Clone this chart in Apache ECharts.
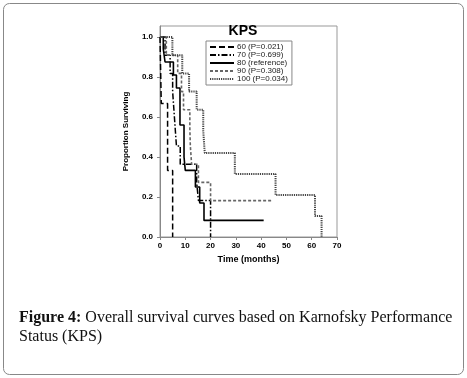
<!DOCTYPE html>
<html>
<head>
<meta charset="utf-8">
<script src="https://cdn.jsdelivr.net/npm/echarts@6/dist/echarts.min.js"></script>
<style>
  html, body { margin: 0; padding: 0; background: #fff; }
  #chart { width: 467px; height: 378px; }
</style>
</head>
<body>
<div id="chart"></div>
<script>
// Kaplan-Meier steps: [months, proportion surviving]
const kps60 = [[0, 1], [0.5, 0.667], [3, 0.333], [5, 0], [5, 0]]
const kps70 = [[0, 1], [2, 0.909], [4, 0.818], [5, 0.727], [5.5, 0.636], [6, 0.545], [6.5, 0.455], [8, 0.364], [14.5, 0.273], [15.2, 0.182], [20, 0], [20, 0]]
const kps80 = [[0, 1], [1.3, 0.94], [2, 0.875], [5.3, 0.81], [6.5, 0.745], [7.9, 0.56], [9.5, 0.4], [10, 0.333], [14, 0.25], [15.7, 0.17], [17.4, 0.083], [41, 0.083]]
const kps90 = [[0, 1], [2.5, 0.909], [7, 0.818], [8.5, 0.727], [9.3, 0.636], [11.8, 0.545], [12, 0.455], [12.5, 0.364], [15.2, 0.273], [20, 0.182], [44, 0.182]]
const kps100 = [[0, 1], [4.9, 0.909], [8.8, 0.818], [11.5, 0.727], [14.5, 0.636], [17.1, 0.53], [17.7, 0.42], [29.6, 0.315], [45.7, 0.21], [61.3, 0.105], [63.9, 0], [63.9, 0]]

const seriesNames = ['60 (P=0.021)', '70 (P=0.699)', '80 (reference)', '90 (P=0.308)', '100 (P=0.034)']
const yTicks = [0, 0.2, 0.4, 0.6, 0.8, 1.0]

const chart = echarts.init(document.getElementById('chart'))

const stepLine = (name, data, color, type, width) => ({
  name,
  type: 'line',
  step: 'end',
  data,
  symbol: 'none',
  lineStyle: { color, type, width },
  itemStyle: { color },
  emphasis: { disabled: true }
})

chart.setOption({
  backgroundColor: '#fff',
  animation: false,
  title: {
    text: 'KPS',
    left: 243,
    top: 24,
    padding: 0,
    textAlign: 'center',
    textStyle: { fontFamily: 'Liberation Sans', fontSize: 14, fontWeight: 'bold', color: '#000' }
  },
  legend: {
    data: seriesNames,
    orient: 'vertical',
    left: 206,
    top: 41,
    padding: [2, 4, 2, 3],
    itemGap: 0,
    itemWidth: 24,
    itemHeight: 8.5,
    borderColor: '#888',
    borderWidth: 1,
    backgroundColor: '#fff',
    // hide the marker drawn on the legend line, keep only the dashed stroke
    itemStyle: { color: 'rgba(0,0,0,0)', borderWidth: 0 },
    textStyle: { fontFamily: 'Liberation Sans', fontSize: 8, color: '#222', padding: [0, 0, 0, -2] }
  },
  grid: {
    left: 160,
    right: 130,
    top: 26,
    bottom: 141,
    show: true,
    borderColor: '#999',
    borderWidth: 1
  },
  xAxis: {
    type: 'value',
    min: 0,
    max: 70,
    interval: 10,
    name: 'Time (months)',
    nameLocation: 'middle',
    nameGap: 18,
    nameTextStyle: { fontFamily: 'Liberation Sans', fontSize: 9, fontWeight: 'bold', color: '#000' },
    axisLine: { lineStyle: { color: '#888' } },
    axisTick: { show: true, length: 3, lineStyle: { color: '#888' } },
    axisLabel: { fontFamily: 'Liberation Sans', fontSize: 8, fontWeight: 'bold', color: '#000', margin: 5 },
    splitLine: { show: false }
  },
  yAxis: {
    type: 'value',
    min: 0,
    max: 1.055,
    name: 'Proportion Surviving',
    nameLocation: 'middle',
    nameGap: 30,
    nameRotate: 90,
    nameTextStyle: { fontFamily: 'Liberation Sans', fontSize: 8, fontWeight: 'bold', color: '#000' },
    axisLine: { show: true, lineStyle: { color: '#888' } },
    axisTick: { show: true, length: 3, customValues: yTicks, lineStyle: { color: '#888' } },
    axisLabel: {
      customValues: yTicks,
      formatter: v => v.toFixed(1),
      fontFamily: 'Liberation Sans', fontSize: 8, fontWeight: 'bold', color: '#000', margin: 7
    },
    splitLine: { show: false }
  },
  graphic: [
    {
      type: 'rect',
      shape: { x: 3.5, y: 3.5, width: 460, height: 371, r: 6 },
      style: { fill: 'none', stroke: '#888', lineWidth: 1 },
      silent: true,
      z: -10
    },
    {
      type: 'text',
      left: 19,
      top: 308,
      style: {
        text: '{b|Figure 4:} Overall survival curves based on Karnofsky Performance\nStatus (KPS)',
        font: '16px "Liberation Serif"',
        fill: '#111',
        lineHeight: 19,
        rich: {
          b: { font: 'bold 16px "Liberation Serif"', fill: '#111' }
        }
      }
    }
  ],
  series: [
    stepLine(seriesNames[0], kps60, '#000', [6, 3], 1.5),
    stepLine(seriesNames[1], kps70, '#000', [6, 2, 1.5, 2], 1.5),
    stepLine(seriesNames[2], kps80, '#000', 'solid', 1.6),
    stepLine(seriesNames[3], kps90, '#666', [3, 2], 1.6),
    stepLine(seriesNames[4], kps100, '#444', [1.2, 1], 2)
  ]
})
</script>
</body>
</html>
